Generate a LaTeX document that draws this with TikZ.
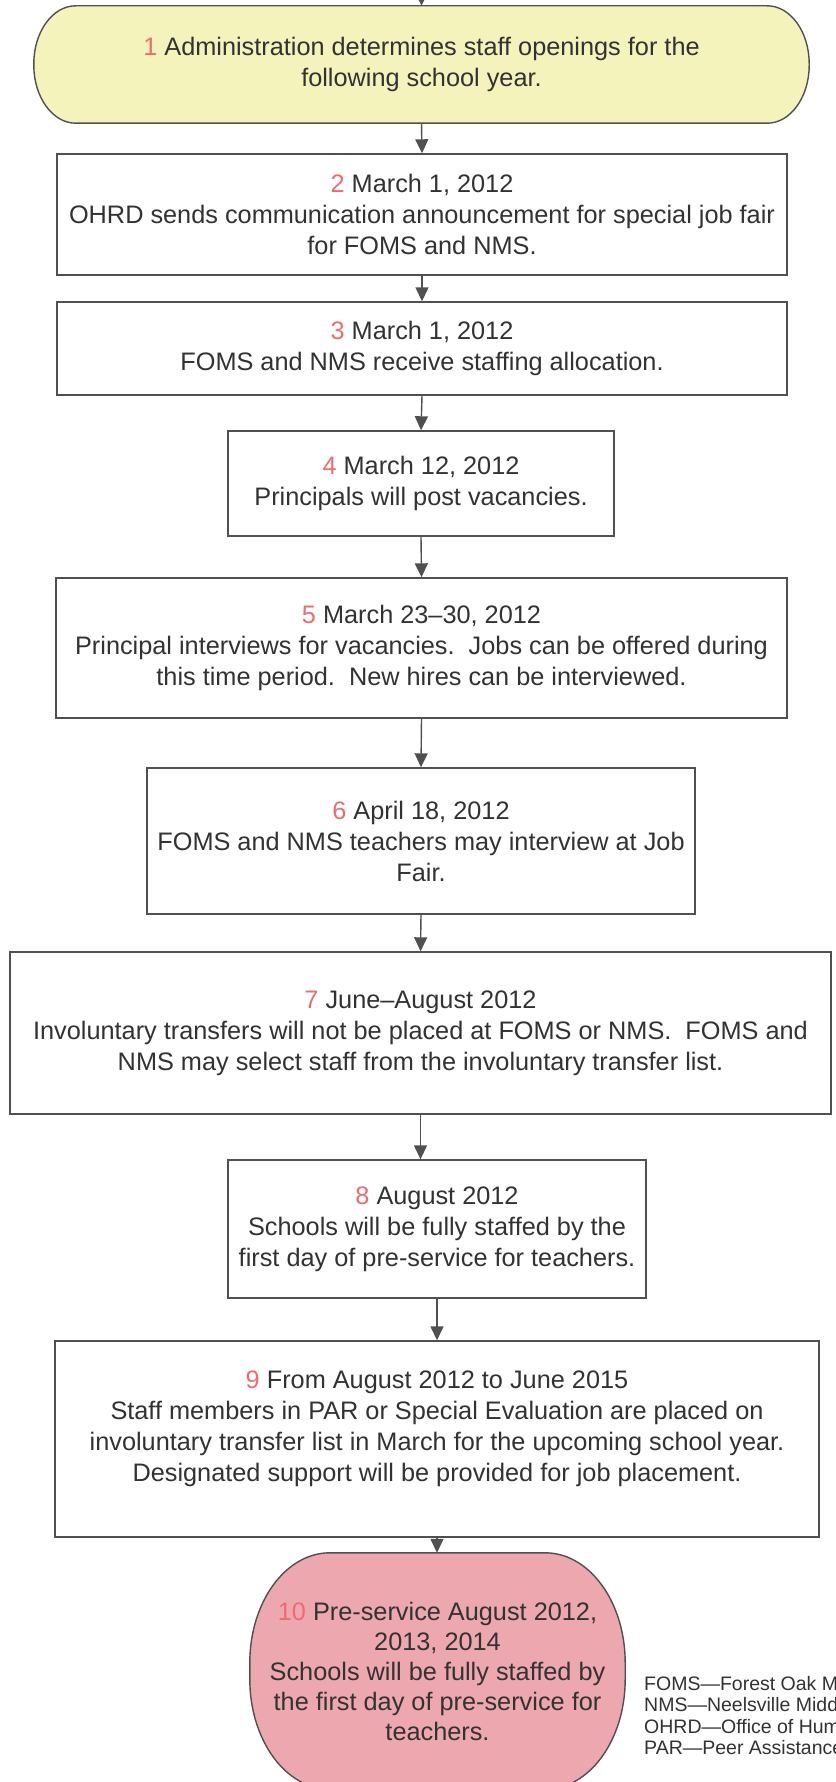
\documentclass[tikz,border=0pt]{standalone}
\usepackage{fontspec}
\setmainfont{Liberation Sans}
\usetikzlibrary{arrows.meta, backgrounds}
\definecolor{step edge}{RGB}{80,80,80}
\definecolor{step text}{RGB}{50,50,50}
\definecolor{step number}{RGB}{238,108,112}
\definecolor{start area}{RGB}{245,243,188}
\definecolor{end area}{RGB}{236,168,174}
\def\stepno#1{\textcolor{step number}{#1}}
% outline with elliptic corners round a node: name, x radius, y radius
\def\capshape#1#2#3{([xshift=#2]#1.north west) -- ([xshift=-#2]#1.north east)
  arc[start angle=90, end angle=0, x radius=#2, y radius=#3]
  -- ([yshift=#3]#1.south east)
  arc[start angle=0, end angle=-90, x radius=#2, y radius=#3]
  -- ([xshift=#2]#1.south west)
  arc[start angle=270, end angle=180, x radius=#2, y radius=#3]
  -- ([yshift=-#3]#1.north west)
  arc[start angle=180, end angle=90, x radius=#2, y radius=#3] -- cycle}
\tikzset{
  steptext/.style={text=step text, align=center, font=\fontsize{25.3}{31}\selectfont, inner sep=0pt},
  stepbox/.style={steptext, draw=step edge, line width=1.4pt, fill=white},
  capedge/.style={draw=step edge, line width=1.4pt},
  flow/.style={draw=step edge, line width=1.4pt, -{Triangle[width=13pt,length=14pt]}},
  legend/.style={text=step text, align=left, font=\fontsize{19.5}{21.5}\selectfont,
    anchor=north west, inner sep=0pt}
}

\begin{document}
\begin{tikzpicture}[x=1pt, y=-1pt]
    \path[use as bounding box, clip] (0,0) rectangle (835,1782);
    \coordinate (entry) at (421.5,-15);
    \node[steptext, minimum width=775pt, minimum height=117pt] (s1) at (421.5,64.5)
      {\stepno{1} Administration determines staff openings for the\\following school year.};
    \node[stepbox, minimum width=730pt, minimum height=121pt] (s2) at (422,214.5)
      {\stepno{2} March 1, 2012\\OHRD sends communication announcement for special job fair\\for FOMS and NMS.};
    \node[stepbox, minimum width=730pt, minimum height=93pt] (s3) at (422,348.5)
      {\stepno{3} March 1, 2012\\FOMS and NMS receive staffing allocation.};
    \node[stepbox, minimum width=386pt, minimum height=105pt] (s4) at (421,483.5)
      {\stepno{4} March 12, 2012\\Principals will post vacancies.};
    \node[stepbox, minimum width=731pt, minimum height=140pt] (s5) at (421.5,648)
      {\stepno{5} March 23--30, 2012\\Principal interviews for vacancies.\ \ Jobs can be offered during\\this time period.\ \ New hires can be interviewed.};
    \node[stepbox, minimum width=548pt, minimum height=146pt] (s6) at (421,841)
      {\stepno{6} April 18, 2012\\FOMS and NMS teachers may interview at Job\\Fair.};
    \node[stepbox, minimum width=821pt, minimum height=162pt] (s7) at (420.5,1033)
      {\stepno{7} June--August 2012\\Involuntary transfers will not be placed at FOMS or NMS.\ \ FOMS and\\NMS may select staff from the involuntary transfer list.};
    \node[stepbox, minimum width=418pt, minimum height=138pt] (s8) at (437,1229)
      {\stepno{8} August 2012\\Schools will be fully staffed by the\\first day of pre-service for teachers.};
    \node[stepbox, minimum width=764pt, minimum height=196pt] (s9) at (437,1439)
      {\stepno{9} From August 2012 to June 2015\\Staff members in PAR or Special Evaluation are placed on\\involuntary transfer list in March for the upcoming school year.\\Designated support will be provided for job placement.\\[-5pt]\mbox{}};
    \node[steptext, font=\fontsize{25.3}{30}\selectfont, minimum width=375pt, minimum height=236pt] (s10) at (437.5,1671)
      {\stepno{10} Pre-service August 2012,\\2013, 2014\\Schools will be fully staffed by\\the first day of pre-service for\\teachers.};
    \node[legend] (key) at (644,1676)
      {FOMS---Forest Oak Middle School\\NMS---Neelsville Middle School\\OHRD---Office of Human Resources and Development\\PAR---Peer Assistance and Review};
    \begin{pgfonlayer}{background}
      \fill[white] (0,0) rectangle (835,1782);
      \path[capedge, fill=start area] \capshape{s1}{42pt}{58pt};
      \path[capedge, fill=end area] \capshape{s10}{80pt}{110pt};
    \end{pgfonlayer}
    \draw[flow] (entry) -- (s1.north);
    \draw[flow] (s1.south) -- (s2.north);
    \draw[flow] (s2.south) -- (s3.north);
    \draw[flow] (s3.south) -- (s4.north);
    \draw[flow] (s4.south) -- (s5.north);
    \draw[flow] (s5.south) -- (s6.north);
    \draw[flow] (s6.south) -- (s7.north);
    \draw[flow] (s7.south) -- (s7.south |- s8.north);
    \draw[flow] (s8.south) -- (s9.north);
    \draw[flow] (s9.south) -- (s9.south |- s10.north);
\end{tikzpicture}
\end{document}
